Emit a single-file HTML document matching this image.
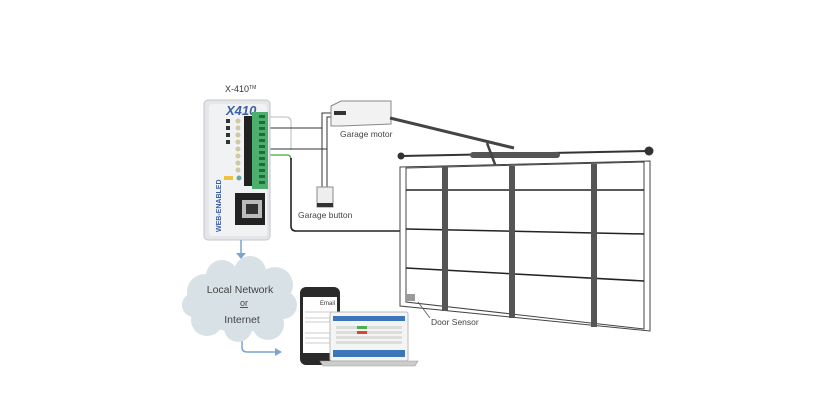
<!DOCTYPE html>
<html><head><style>
html,body{margin:0;padding:0;background:#fff;}
svg{display:block;font-family:"Liberation Sans",sans-serif;}
</style></head><body>
<svg width="840" height="420" viewBox="0 0 840 420" xmlns="http://www.w3.org/2000/svg">
<rect width="840" height="420" fill="#fff"/>
<!-- wires -->
<path d="M262 117 H286 Q291 117 291 122 V150" stroke="#bbb" stroke-width="1" fill="none"/>
<path d="M262 155 H287 Q291 155 291 160" stroke="#5cb85c" stroke-width="1.5" fill="none"/>
<path d="M291 158 V226 Q291 231 296 231 H404 Q409 231 409 236 V295" stroke="#222" stroke-width="1.6" fill="none"/>
<path d="M262 128 H322 M262 149 H327" stroke="#333" stroke-width="1" fill="none"/>
<path d="M322 187 V113 H334 M327 187 V117 H334" stroke="#333" stroke-width="1" fill="none"/>
<!-- device -->
<text x="225" y="92" font-size="9" fill="#333">X-410<tspan font-size="5" dy="-3">TM</tspan></text>
<rect x="204" y="100" width="66" height="140" rx="4" fill="#e4e6ea" stroke="#c4c6ca"/>
<rect x="209" y="104" width="58" height="132" rx="3" fill="#f1f2f4"/>
<text x="226" y="115" font-size="13" font-weight="bold" fill="#3a5fa8" font-style="italic">X410</text>
<g fill="#333"><rect x="226" y="119" width="4" height="4"/><rect x="226" y="126" width="4" height="4"/><rect x="226" y="133" width="4" height="4"/><rect x="226" y="140" width="4" height="4"/></g>
<g fill="#cfc9a0"><circle cx="238" cy="121" r="2.5"/><circle cx="238" cy="128" r="2.5"/><circle cx="238" cy="135" r="2.5"/><circle cx="238" cy="142" r="2.5"/><circle cx="238" cy="149" r="2.5"/><circle cx="238" cy="156" r="2.5"/><circle cx="238" cy="163" r="2.5"/><circle cx="238" cy="170" r="2.5"/></g>
<circle cx="239" cy="178" r="2.5" fill="#6a9"/>
<rect x="224" y="176" width="9" height="4" fill="#f0c040"/>
<rect x="244" y="116" width="8" height="70" fill="#222"/>
<rect x="252" y="112" width="16" height="77" fill="#4caf6e"/>
<g fill="#1f6b3a"><rect x="259" y="115" width="6" height="3"/><rect x="259" y="121" width="6" height="3"/><rect x="259" y="127" width="6" height="3"/><rect x="259" y="133" width="6" height="3"/><rect x="259" y="139" width="6" height="3"/><rect x="259" y="145" width="6" height="3"/><rect x="259" y="151" width="6" height="3"/><rect x="259" y="157" width="6" height="3"/><rect x="259" y="163" width="6" height="3"/><rect x="259" y="169" width="6" height="3"/><rect x="259" y="175" width="6" height="3"/><rect x="259" y="181" width="6" height="3"/></g>
<rect x="235" y="193" width="30" height="32" fill="#222"/>
<rect x="242" y="200" width="20" height="18" fill="#bbb"/>
<rect x="246" y="204" width="12" height="10" fill="#333"/>
<text x="0" y="0" font-size="7" font-weight="bold" fill="#3a5fa8" transform="translate(221,232) rotate(-90)">WEB-ENABLED</text>
<!-- motor & button -->
<path d="M331 106 L341 101 H391 V124 L341 126 H331 Z" fill="#f2f2f2" stroke="#888"/>
<rect x="334" y="111" width="12" height="4" fill="#333"/>
<text x="340" y="137" font-size="8.5" fill="#444">Garage motor</text>
<rect x="317" y="187" width="16" height="20" fill="#eee" stroke="#888"/>
<rect x="317" y="203" width="16" height="4" fill="#333"/>
<text x="298" y="218" font-size="8.5" fill="#444">Garage button</text>
<!-- rail -->
<line x1="390" y1="118" x2="514" y2="148" stroke="#444" stroke-width="3"/>
<line x1="401" y1="156" x2="650" y2="151" stroke="#333" stroke-width="2"/>
<circle cx="401" cy="156" r="3.5" fill="#333"/><circle cx="649" cy="151" r="4.5" fill="#333"/>
<rect x="470" y="152" width="90" height="6" rx="3" fill="#555"/>
<path d="M487 143 L499 175 L513 166" stroke="#444" stroke-width="2.5" fill="none"/>
<!-- door -->
<path d="M400 167 L650 161 L650 331 L400 306 Z" fill="#fff" stroke="#444" stroke-width="1"/>
<path d="M406 168 L644 162 L644 329 L406 302 Z" fill="#fff" stroke="#444" stroke-width="1"/>
<path d="M406 190 L644 190 M406 229 L644 234 M406 268 L644 281" stroke="#222" stroke-width="1.5"/>
<rect x="442" y="167" width="6" height="144" fill="#555"/>
<rect x="509" y="166" width="6" height="152" fill="#555"/>
<rect x="591" y="164" width="6" height="163" fill="#555"/>
<rect x="406" y="294" width="9" height="7" fill="#999"/>
<line x1="418" y1="302" x2="430" y2="318" stroke="#555" stroke-width="0.8"/>
<text x="431" y="325" font-size="8.5" fill="#444">Door Sensor</text>
<!-- arrows -->
<path d="M241 240 V254" stroke="#7aa3d6" stroke-width="1.5"/>
<path d="M236 253 L241 259 L246 253 Z" fill="#7aa3d6"/>
<path d="M242 338 V347 Q242 352 247 352 H276" stroke="#7aa3d6" stroke-width="1.5" fill="none"/>
<path d="M275 348 L282 352 L275 356 Z" fill="#7aa3d6"/>
<!-- cloud -->
<g fill="#d7e1e6">
<ellipse cx="240" cy="300" rx="52" ry="32"/>
<circle cx="205" cy="292" r="18"/><circle cx="222" cy="276" r="16"/><circle cx="250" cy="272" r="16"/><circle cx="275" cy="285" r="18"/><circle cx="283" cy="305" r="14"/><circle cx="268" cy="324" r="16"/><circle cx="238" cy="328" r="14"/><circle cx="207" cy="320" r="16"/><circle cx="194" cy="305" r="12"/>
</g>
<text x="240" y="293" font-size="10.5" fill="#444" text-anchor="middle">Local Network</text>
<text x="244" y="306" font-size="9" fill="#444" text-anchor="middle" text-decoration="underline">or</text>
<text x="242" y="323" font-size="10.5" fill="#444" text-anchor="middle">Internet</text>
<!-- phone -->
<rect x="300" y="287" width="40" height="78" rx="6" fill="#2a2a2a"/>
<rect x="303" y="297" width="34" height="56" fill="#fff"/>
<text x="335" y="305" font-size="6" fill="#333" text-anchor="end">Email</text>
<g stroke="#999" stroke-width="0.6"><line x1="305" y1="312" x2="333" y2="312"/><line x1="305" y1="318" x2="333" y2="318"/><line x1="305" y1="322" x2="333" y2="322"/><line x1="305" y1="333" x2="333" y2="333"/><line x1="305" y1="338" x2="333" y2="338"/><line x1="305" y1="343" x2="333" y2="343"/></g>
<!-- laptop -->
<rect x="330" y="312" width="78" height="49" rx="2" fill="#f4f4f4" stroke="#bbb"/>
<rect x="333" y="316" width="72" height="5" fill="#3d76b8"/>
<rect x="333" y="350" width="72" height="7" fill="#3d76b8"/>
<g fill="#ddd"><rect x="336" y="326" width="66" height="3"/><rect x="336" y="331" width="66" height="3"/><rect x="336" y="336" width="66" height="3"/><rect x="336" y="341" width="66" height="3"/></g>
<rect x="357" y="326" width="10" height="3" fill="#4caf50"/><rect x="357" y="331" width="10" height="3" fill="#d9433a"/>
<path d="M320 361 H418 L415 366 H323 Z" fill="#ccc" stroke="#999" stroke-width="0.6"/>
</svg>
</body></html>
